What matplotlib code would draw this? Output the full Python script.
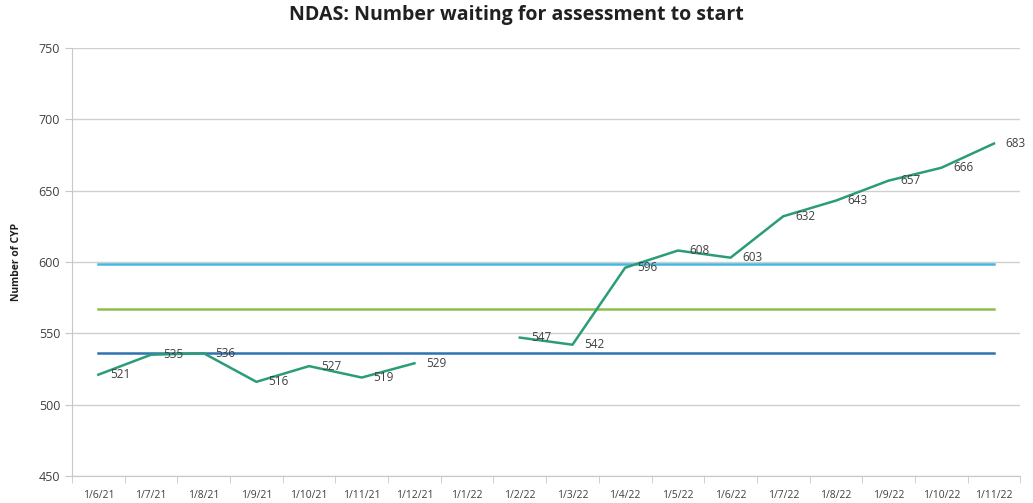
import numpy as np
from matplotlib import pyplot as plt

# data
months = ['1/6/21', '1/7/21', '1/8/21', '1/9/21', '1/10/21', '1/11/21', '1/12/21',
          '1/1/22', '1/2/22', '1/3/22', '1/4/22', '1/5/22', '1/6/22', '1/7/22',
          '1/8/22', '1/9/22', '1/10/22', '1/11/22']
waiting = [521, 535, 536, 516, 527, 519, 529, None, 547, 542, 596, 608, 603,
           632, 643, 657, 666, 683]
upper = 598.5
mean = 567
lower = 536.5

plt.rcParams['font.family'] = ['Open Sans', 'DejaVu Sans']

fig = plt.figure(figsize=(10.33, 5.03), dpi=100)
ax = fig.add_axes([0.0697, 0.0537, 0.918, 0.851])

x = np.arange(len(months))
y = np.array([np.nan if v is None else v for v in waiting], dtype=float)

ax.plot(x, [upper] * len(x), color='#45b8e0', lw=1.8, zorder=2)
ax.plot(x, [mean] * len(x), color='#8cc04a', lw=1.8, zorder=2)
ax.plot(x, [lower] * len(x), color='#2f72b0', lw=1.8, zorder=2)
ax.plot(x, y, color='#2a9d78', lw=1.8, zorder=3)

for xi, v in zip(x, waiting):
    if v is None:
        continue
    ax.annotate(str(v), (xi, v), xytext=(8.5, 0), textcoords='offset points',
                va='center', ha='left', fontsize=8.5, color='#404040', zorder=4)

ax.set_xlim(-0.5, len(months) - 0.5)
ax.set_ylim(450, 750)
ax.set_yticks(np.arange(450, 751, 50))
ax.yaxis.grid(True, color='#d0d0d0', lw=1)
ax.set_axisbelow(True)

ax.set_xticks(x)
ax.set_xticklabels(months, fontsize=7.5, color='#404040')
ax.set_xticks(np.arange(-0.5, len(months), 1), minor=True)
ax.tick_params(axis='x', which='major', length=0, pad=10)
ax.tick_params(axis='x', which='minor', length=5, color='#c8c8c8')
ax.tick_params(axis='y', length=5, color='#c8c8c8', labelsize=9, labelcolor='#404040')

for s in ['top', 'right']:
    ax.spines[s].set_visible(False)
ax.spines['left'].set_color('#c8c8c8')
ax.spines['bottom'].set_color('#c8c8c8')

ax.set_ylabel('Number of CYP', fontsize=7.5, fontweight='bold', color='#202020', labelpad=12)
fig.suptitle('NDAS: Number waiting for assessment to start', fontsize=14,
             fontweight='bold', color='#202020', y=0.99)

fig.savefig('out.png', dpi=100)
